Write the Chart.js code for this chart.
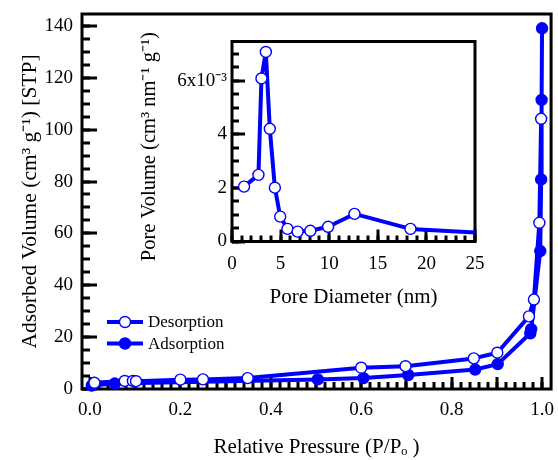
<!DOCTYPE html>
<html><head><meta charset="utf-8">
<script src="https://cdn.jsdelivr.net/npm/chart.js@4/dist/chart.umd.min.js"></script>
<style>
html,body{margin:0;padding:0;background:#fff;}
#wrap{position:relative;width:558px;height:460px;overflow:hidden;}
#main{position:absolute;left:0;top:0;}
#inset{position:absolute;left:130px;top:25px;}
</style></head><body>
<div id="wrap"><canvas id="main" width="558" height="460"></canvas><canvas id="inset" width="360" height="290"></canvas></div>
<script>
// ---- Main isotherm data ----
const desorptionP = [0.010, 0.077, 0.095, 0.102, 0.200, 0.250, 0.349, 0.600, 0.698, 0.849, 0.901, 0.971, 0.982, 0.994, 0.998];
const desorptionV = [2.4, 3.1, 3.1, 3.0, 3.6, 3.7, 4.2, 8.2, 8.8, 11.8, 14.0, 28.0, 34.5, 64.1, 104.2];
const adsorptionP = [0.004, 0.055, 0.504, 0.605, 0.704, 0.852, 0.902, 0.974, 0.976, 0.996, 0.998, 0.999, 1.000];
const adsorptionV = [1.3, 2.1, 3.7, 4.2, 5.4, 7.5, 9.6, 21.5, 23.1, 53.2, 80.8, 111.5, 139.1];
const xTickValues = [0, 0.2, 0.4, 0.6, 0.8, 1.0];
const xTickLabels = ["0.0", "0.2", "0.4", "0.6", "0.8", "1.0"];
const yTickValues = [0, 20, 40, 60, 80, 100, 120, 140];
const yTickLabels = ["0", "20", "40", "60", "80", "100", "120", "140"];
const seriesNames = ["Desorption", "Adsorption"];

// ---- Inset pore size distribution ----
const poreDiameter = [1.24, 2.72, 3.03, 3.48, 3.89, 4.41, 4.96, 5.71, 6.75, 8.06, 9.89, 12.6, 18.36, 26.0];
const poreVolume = [0.00205, 0.00249, 0.00609, 0.00708, 0.00421, 0.00201, 0.00093, 0.00047, 0.00037, 0.00040, 0.00055, 0.00103, 0.00047, 0.00032];
const insetXTickValues = [0, 5, 10, 15, 20, 25];
const insetXTickLabels = ["0", "5", "10", "15", "20", "25"];
const insetYTickValues = [0, 0.002, 0.004, 0.006];
const insetYTickLabels = ["0", "2", "4", "6x10\u207B\u00B3"];

const SERIF = "'Liberation Serif', 'Times New Roman', serif";
const BLUE = '#0000ff';
Chart.defaults.font.family = SERIF;
Chart.defaults.color = '#000';

function range(a, b, step) { const r = []; for (let v = a; v <= b + step * 1e-6; v += step) r.push(+v.toFixed(6)); return r; }
function noPad(s) { s.paddingLeft = 0; s.paddingRight = 0; s.paddingTop = 0; s.paddingBottom = 0; }

const innerTicks = {
  id: 'innerTicks',
  beforeDatasetsDraw(chart, args, opts) {
    const { ctx, chartArea: a, scales } = chart;
    ctx.save();
    ctx.strokeStyle = '#000';
    ctx.lineWidth = opts.tickWidth;
    ctx.lineCap = 'butt';
    for (const spec of opts.x) {
      for (const v of spec.values) {
        const px = Math.round(scales.x.getPixelForValue(v));
        ctx.beginPath(); ctx.moveTo(px, a.bottom); ctx.lineTo(px, a.bottom - spec.len); ctx.stroke();
      }
    }
    for (const spec of opts.y) {
      for (const v of spec.values) {
        const py = Math.round(scales.y.getPixelForValue(v));
        ctx.beginPath(); ctx.moveTo(a.left, py); ctx.lineTo(a.left + spec.len, py); ctx.stroke();
      }
    }
    ctx.lineWidth = opts.frameWidth;
    ctx.strokeRect(a.left, a.top, a.right - a.left, a.bottom - a.top);
    ctx.restore();
  }
};

const customLegend = {
  id: 'customLegend',
  afterDatasetsDraw(chart, args, opts) {
    if (!opts.items) return;
    const ctx = chart.ctx;
    ctx.save();
    opts.items.forEach((it, i) => {
      const ds = chart.data.datasets[i];
      const y = opts.y + i * opts.gap;
      ctx.strokeStyle = ds.borderColor; ctx.lineWidth = ds.borderWidth;
      ctx.beginPath(); ctx.moveTo(opts.x, y); ctx.lineTo(opts.x + opts.len, y); ctx.stroke();
      ctx.beginPath(); ctx.arc(opts.x + opts.len / 2, y, ds.pointRadius, 0, Math.PI * 2);
      ctx.fillStyle = ds.pointBackgroundColor; ctx.fill();
      ctx.lineWidth = ds.pointBorderWidth; ctx.strokeStyle = ds.pointBorderColor; ctx.stroke();
      ctx.fillStyle = '#000'; ctx.font = opts.font; ctx.textBaseline = 'middle'; ctx.textAlign = 'left';
      ctx.fillText(it, opts.x + opts.len + opts.textGap, y + 1);
    });
    ctx.restore();
  }
};

const toXY = (xs, ys) => xs.map((x, i) => ({ x, y: ys[i] }));
const tickFont = { family: SERIF, size: 19 };
const titleFont = { family: SERIF, size: 21 };

new Chart(document.getElementById('main'), {
  type: 'scatter',
  data: {
    datasets: [
      { label: seriesNames[0], data: toXY(desorptionP, desorptionV), showLine: true,
        borderColor: BLUE, borderWidth: 4, borderJoinStyle: 'round', pointRadius: 5.5, pointBackgroundColor: '#fff',
        pointBorderColor: BLUE, pointBorderWidth: 1.4, clip: false },
      { label: seriesNames[1], data: toXY(adsorptionP, adsorptionV), showLine: true,
        borderColor: BLUE, borderWidth: 4, borderJoinStyle: 'round', pointRadius: 5.5, pointBackgroundColor: BLUE,
        pointBorderColor: BLUE, pointBorderWidth: 1.4, clip: false }
    ]
  },
  options: {
    responsive: false, animation: false, devicePixelRatio: 1,
    layout: { padding: { left: 0, top: 14, right: 2, bottom: 0 } },
    plugins: {
      legend: { display: false }, tooltip: { enabled: false },
      innerTicks: {
        tickWidth: 3, frameWidth: 3,
        x: [{ values: range(0, 1, 0.02), len: 7 }, { values: range(0, 1, 0.1), len: 12 }],
        y: [{ values: range(0, 140, 5), len: 8 }, { values: yTickValues, len: 15 }]
      },
      customLegend: { items: seriesNames, x: 107, y: 322, gap: 21.5, len: 36, textGap: 5, font: '17px ' + SERIF }
    },
    scales: {
      x: {
        type: 'linear', min: -0.0175, max: 1.02,
        afterFit: s => { s.height = 71; noPad(s); },
        afterBuildTicks: s => { s.ticks = xTickValues.map(v => ({ value: v })); },
        ticks: { font: tickFont, padding: 10, maxRotation: 0, autoSkip: false,
                 callback: (v) => xTickLabels[xTickValues.indexOf(v)] },
        grid: { display: false, drawTicks: false }, border: { display: false },
        title: { display: true, text: 'Relative Pressure (P/P\u2092 )', font: titleFont, padding: { top: 0, bottom: 0 } }
      },
      y: {
        type: 'linear', min: 0, max: 144.6,
        afterFit: s => { s.width = 82; noPad(s); },
        afterBuildTicks: s => { s.ticks = yTickValues.map(v => ({ value: v })); },
        ticks: { font: tickFont, padding: 9, autoSkip: false,
                 callback: (v) => yTickLabels[yTickValues.indexOf(v)] },
        grid: { display: false, drawTicks: false }, border: { display: false },
        title: { display: true, text: 'Adsorbed Volume (cm\u00B3 g\u207B\u00B9) [STP]', font: { family: SERIF, size: 21.5 }, padding: { top: 17, bottom: 0 } }
      }
    }
  },
  plugins: [innerTicks, customLegend]
});

new Chart(document.getElementById('inset'), {
  type: 'scatter',
  data: {
    datasets: [
      { label: 'Pore Volume', data: toXY(poreDiameter, poreVolume), showLine: true,
        borderColor: BLUE, borderWidth: 4, borderJoinStyle: 'round', pointRadius: 5.5, pointBackgroundColor: '#fff',
        pointBorderColor: BLUE, pointBorderWidth: 1.4, clip: { left: 8, top: 8, right: 0, bottom: 8 } }
    ]
  },
  options: {
    responsive: false, animation: false, devicePixelRatio: 1,
    layout: { padding: { left: 0, top: 16.5, right: 15, bottom: 0 } },
    plugins: {
      legend: { display: false }, tooltip: { enabled: false },
      innerTicks: {
        tickWidth: 3, frameWidth: 3,
        x: [{ values: range(0, 25, 1), len: 6 }, { values: insetXTickValues, len: 12 }],
        y: [{ values: range(0, 0.007, 0.0005), len: 7 }, { values: insetYTickValues, len: 13 }]
      }
    },
    scales: {
      x: {
        type: 'linear', min: 0, max: 25,
        afterFit: s => { s.height = 73.5; noPad(s); },
        afterBuildTicks: s => { s.ticks = insetXTickValues.map(v => ({ value: v })); },
        ticks: { font: tickFont, padding: 11, maxRotation: 0, autoSkip: false,
                 callback: (v) => insetXTickLabels[insetXTickValues.indexOf(v)] },
        grid: { display: false, drawTicks: false }, border: { display: false },
        title: { display: true, text: 'Pore Diameter (nm)', font: titleFont, padding: { top: 0, bottom: 5 } }
      },
      y: {
        type: 'linear', min: 0, max: 0.00747,
        afterFit: s => { s.width = 102; noPad(s); },
        afterBuildTicks: s => { s.ticks = insetYTickValues.map(v => ({ value: v })); },
        ticks: { font: tickFont, padding: 5, autoSkip: false,
                 callback: (v) => insetYTickLabels[insetYTickValues.indexOf(v)] },
        grid: { display: false, drawTicks: false }, border: { display: false },
        title: { display: true, text: 'Pore Volume (cm\u00B3 nm\u207B\u00B9 g\u207B\u00B9)\u00A0\u00A0', font: { family: SERIF, size: 20.5 }, padding: { top: 7, bottom: 0 } }
      }
    }
  },
  plugins: [innerTicks]
});
</script>
</body></html>
